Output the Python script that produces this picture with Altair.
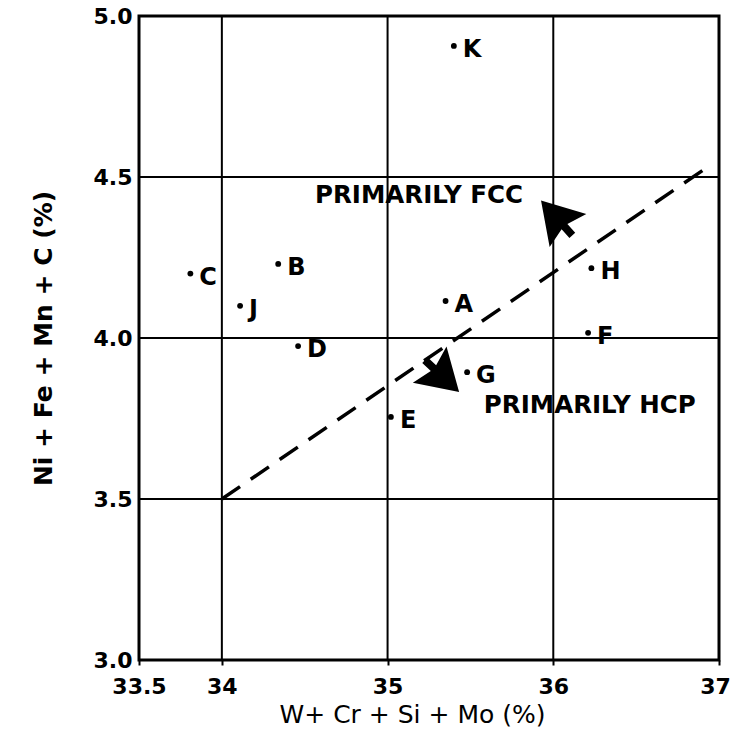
import altair as alt
import pandas as pd

# Alloy compositions: W+Cr+Si+Mo vs Ni+Fe+Mn+C (wt %)
alloy_ids = ["A", "B", "C", "D", "E", "F", "G", "H", "J", "K"]
w_cr_si_mo = [35.35, 34.34, 33.81, 34.46, 35.02, 36.21, 35.48, 36.23, 34.11, 35.40]
ni_fe_mn_c = [4.115, 4.23, 4.20, 3.975, 3.755, 4.016, 3.894, 4.217, 4.10, 4.907]

# Phase boundary (dashed)
boundary_x = [34.0, 36.90]
boundary_y = [3.50, 4.52]

# Region annotations
region_text = ["PRIMARILY FCC", "PRIMARILY HCP"]
region_x = [35.19, 36.22]
region_y = [4.44, 3.79]

# Arrowheads pointing into each region
arrow_x = [36.01, 35.34]
arrow_y = [4.379, 3.876]
arrow_angle = [318, 133]

# Axis ticks and grid
x_ticks = [33.5, 34, 35, 36, 37]
y_ticks = [3.0, 3.5, 4.0, 4.5, 5.0]
x_grid = [34, 35, 36]
y_grid = [3.5, 4.0, 4.5]

FONT = "DejaVu Sans"

pts = pd.DataFrame({"id": alloy_ids, "x": w_cr_si_mo, "y": ni_fe_mn_c})
bnd = pd.DataFrame({"x": boundary_x, "y": boundary_y})
reg = pd.DataFrame({"t": region_text, "x": region_x, "y": region_y})
arr = pd.DataFrame({"x": arrow_x, "y": arrow_y, "a": arrow_angle})
gx = pd.DataFrame({"x": x_grid})
gy = pd.DataFrame({"y": y_grid})

xs = alt.Scale(domain=[33.5, 37], nice=False, zero=False)
ys = alt.Scale(domain=[3.0, 5.0], nice=False, zero=False)

x_axis = alt.Axis(
    values=x_ticks, grid=False, domain=False, ticks=True, tickSize=5,
    tickWidth=2, tickColor="black",
    labelExpr="datum.value == 33.5 ? '33.5' : format(datum.value, 'd')",
    labelFont=FONT, labelFontWeight="bold", labelFontSize=22, labelColor="black",
    labelPadding=11, labelFlush=False,
    labelOffset={"condition": {"test": "datum.value == 37", "value": -4}, "value": 0},
    title="W+ Cr + Si + Mo (%)", titleFont=FONT, titleFontWeight="normal",
    titleFontSize=25, titleColor="black", titleX=273, titleY=62,
    titleAlign="center", titleBaseline="alphabetic",
)
y_axis = alt.Axis(
    values=y_ticks, grid=False, domain=False, ticks=False,
    format=".1f",
    labelFont=FONT, labelFontWeight="bold", labelFontSize=22, labelColor="black",
    labelPadding=7, labelFlush=False,
    title="Ni + Fe + Mn + C (%)", titleFont=FONT, titleFontWeight="bold",
    titleFontSize=25, titleColor="black", titleX=-96, titleY=322,
    titleAlign="center", titleBaseline="middle", titleAngle=270,
)

vgrid = alt.Chart(gx).mark_rule(color="black", strokeWidth=2).encode(
    x=alt.X("x:Q", scale=xs, axis=x_axis)
)
hgrid = alt.Chart(gy).mark_rule(color="black", strokeWidth=2).encode(
    y=alt.Y("y:Q", scale=ys, axis=y_axis)
)

boundary = alt.Chart(bnd).mark_line(
    color="black", strokeWidth=3.5, strokeDash=[22, 13]
).encode(x=alt.X("x:Q", scale=xs), y=alt.Y("y:Q", scale=ys))

dots = alt.Chart(pts).mark_point(
    shape="circle", filled=True, color="black", size=34, opacity=1
).encode(x=alt.X("x:Q", scale=xs), y=alt.Y("y:Q", scale=ys))

dot_labels = alt.Chart(pts).mark_text(
    align="left", baseline="middle", dx=9, dy=4, font=FONT,
    fontWeight="bold", fontSize=24, color="black"
).encode(x=alt.X("x:Q", scale=xs), y=alt.Y("y:Q", scale=ys), text="id:N")

region_labels = alt.Chart(reg).mark_text(
    align="center", baseline="middle", font=FONT, fontWeight="bold",
    fontSize=24.5, color="black"
).encode(x=alt.X("x:Q", scale=xs), y=alt.Y("y:Q", scale=ys), text="t:N")

# Solid arrowhead with a short notched stem, pointing up before rotation
arrow_path = "M0,-0.8 L0.95,0.75 L0.15,0.55 L0.15,1 L-0.15,1 L-0.15,0.55 L-0.95,0.75 Z"
arrows = alt.Chart(arr).mark_point(
    shape=arrow_path, filled=True, color="black", size=2700, opacity=1
).encode(
    x=alt.X("x:Q", scale=xs), y=alt.Y("y:Q", scale=ys),
    angle=alt.Angle("a:Q", scale=None),
)

chart = (
    alt.layer(vgrid, hgrid, boundary, arrows, dots, dot_labels, region_labels)
    .properties(
        width=580, height=644,
        autosize=alt.AutoSizeParams(type="none"),
        padding={"left": 139, "top": 16, "right": 13, "bottom": 72},
        background="white",
    )
    .configure_view(stroke="black", strokeWidth=3)
)

chart.save("out.html", embed_options={"renderer": "svg", "actions": False})
